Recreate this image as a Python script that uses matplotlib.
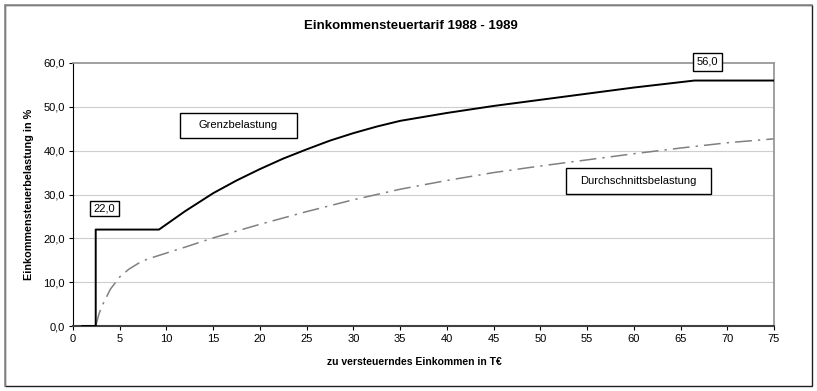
import matplotlib
matplotlib.use("Agg")
import matplotlib.pyplot as plt
from matplotlib.patches import Rectangle
from matplotlib.ticker import FuncFormatter

# Data
grenz_x = [1.0, 2.43, 2.43, 9.2, 12, 15, 17.5, 20, 22.5, 25, 27.5, 30, 32.5, 35, 40, 45, 50, 55, 60, 66.5, 75]
grenz_y = [0, 0, 22, 22, 26.2, 30.3, 33.2, 35.8, 38.2, 40.3, 42.3, 44.0, 45.5, 46.8, 48.6, 50.2, 51.6, 53.0, 54.4, 56, 56]

avg_x = [2.43, 2.8, 3.25, 4, 5, 6, 7, 8, 9.2, 12, 15, 20, 25, 30, 35, 40, 45, 50, 55, 60, 65, 70, 75]
avg_y = [0, 2.9, 5.2, 8.4, 11.2, 13.0, 14.3, 15.3, 16.1, 18.0, 20.1, 23.2, 26.1, 28.8, 31.2,
         33.2, 35.0, 36.5, 37.9, 39.3, 40.6, 41.8, 42.7]

x_ticks = list(range(0, 80, 5))
y_ticks = [0, 10, 20, 30, 40, 50, 60]

title = "Einkommensteuertarif 1988 - 1989"
xlabel = "zu versteuerndes Einkommen in T€"
ylabel = "Einkommensteuerbelastung in %"

# annotation labels: (text, x0, x1, y0, y1)
labels = [
    ("Grenzbelastung", 11.45, 23.96, 43.0, 48.7),
    ("Durchschnittsbelastung", 52.74, 68.22, 30.1, 36.0),
    ("22,0", 1.82, 4.89, 25.1, 28.6),
    ("56,0", 66.33, 69.43, 58.2, 62.3),
]

plt.rcParams['font.family'] = ['Liberation Sans', 'DejaVu Sans']

fig = plt.figure(figsize=(8.17, 3.91), dpi=100)
ax = fig.add_axes([73/817, 1-326/391, (774-73)/817, (326-63)/391])

# outer frame
fig.patches.append(Rectangle((5/817, 5/391), 807/817, 381/391, transform=fig.transFigure,
                             fill=False, edgecolor='#202020', lw=1.0))
fig.lines.append(plt.Line2D([5/817, 5/817], [5/391, 386/391], transform=fig.transFigure,
                            color='#909090', lw=1.2))
fig.lines.append(plt.Line2D([5/817, 812/817], [386/391, 386/391], transform=fig.transFigure,
                            color='#909090', lw=1.2))

ax.set_xlim(0, 75)
ax.set_ylim(0, 60)
ax.set_xticks(x_ticks)
ax.set_yticks(y_ticks)
ax.yaxis.set_major_formatter(FuncFormatter(lambda v, p: f"{v:.1f}".replace('.', ',')))
ax.tick_params(axis='y', labelsize=8, length=3, width=0.8, direction='out', pad=3)
ax.tick_params(axis='x', labelsize=8, length=3, width=0.8, direction='out', pad=3)

for yv in y_ticks[1:-1]:
    ax.axhline(yv, color='#a8a8a8', lw=0.8, ls=(0, (1, 0.8)), zorder=0)

ax.spines['left'].set_color('black')
ax.spines['bottom'].set_color('#404040')
ax.spines['bottom'].set_linewidth(1.5)
ax.spines['right'].set_color('#909090')
ax.spines['top'].set_color('#909090')
ax.spines['right'].set_linewidth(1.2)
ax.spines['top'].set_linewidth(1.2)

ax.plot(avg_x, avg_y, color='#808080', lw=1.1, ls=(0, (11, 4, 1.5, 4)), zorder=2)
ax.plot(grenz_x, grenz_y, color='black', lw=1.4, zorder=3)

for txt, x0, x1, y0, y1 in labels:
    ax.add_patch(Rectangle((x0, y0), x1 - x0, y1 - y0, fc='white', ec='black', lw=1.0,
                           zorder=4, clip_on=False))
    ax.text((x0 + x1) / 2, (y0 + y1) / 2, txt, ha='center', va='center', fontsize=8,
            zorder=5, clip_on=False)

fig.text(411/817, 1-26/391, title, ha='center', va='center', fontsize=9.5, fontweight='bold')
fig.text(414/817, 1-362/391, xlabel, ha='center', va='center', fontsize=7.5, fontweight='bold')
fig.text(29/817, 1-194/391, ylabel, ha='center', va='center', fontsize=7.8, fontweight='bold',
         rotation=90)

fig.savefig("out.png", dpi=100)
